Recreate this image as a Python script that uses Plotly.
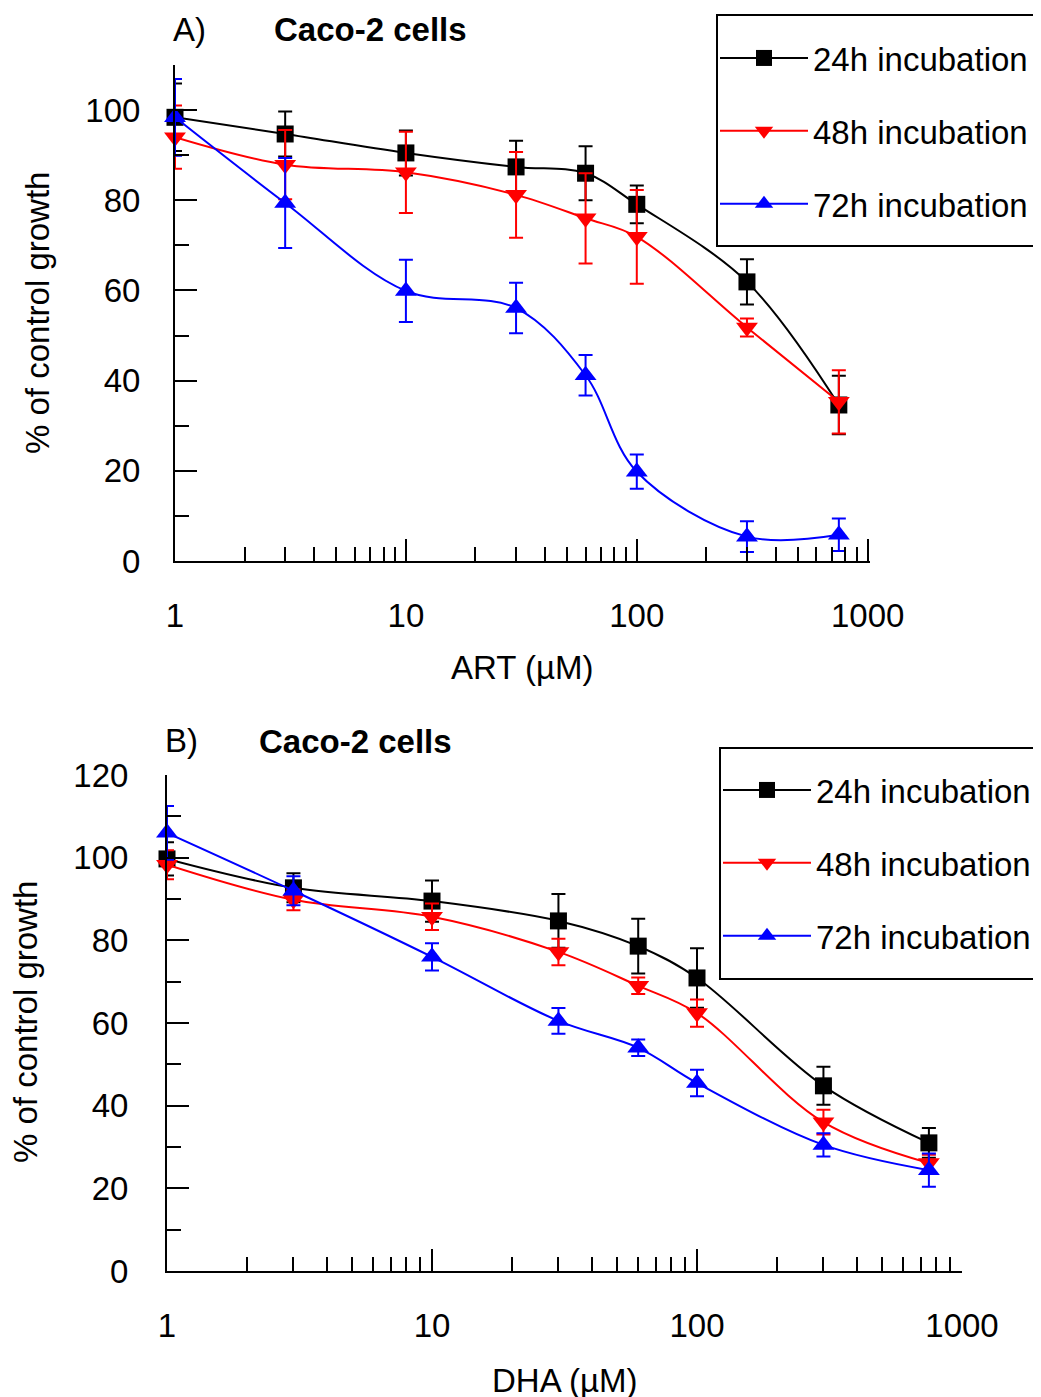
import plotly.graph_objects as go

W, H = 1041, 1397
OFF = 8  # page body margin offset
FONT = "Liberation Sans, Arial, sans-serif"
FS = 33

conc = [1, 3, 10, 30, 60, 100, 300, 750]
series_names = ["24h incubation", "48h incubation", "72h incubation"]
colors = ["#000000", "#FF0000", "#0000FF"]
symbols = ["square", "triangle-down", "triangle-up"]
sizes = [17, 19, 19]

# Panel A: ART
art_24 = [98.4, 94.7, 90.5, 87.4, 86.0, 79.1, 61.9, 34.6]
art_24_err = [7.5, 5.0, 5.0, 5.8, 6.0, 4.2, 5.0, 6.5]
art_48 = [94.0, 87.9, 86.2, 81.2, 76.0, 71.9, 51.8, 35.3]
art_48_err = [7.0, 7.7, 9.0, 9.5, 10.0, 10.4, 2.0, 7.0]
art_72 = [98.4, 79.4, 59.9, 56.1, 41.2, 19.8, 5.4, 5.8]
art_72_err = [8.5, 10.0, 6.9, 5.6, 4.5, 3.8, 3.4, 3.6]

# Panel B: DHA
dha_24 = [99.7, 92.7, 89.5, 84.7, 78.6, 70.9, 44.8, 31.0]
dha_24_err = [4.0, 3.5, 5.0, 6.5, 6.6, 7.2, 4.6, 3.6]
dha_48 = [98.3, 89.8, 85.7, 77.2, 69.0, 62.4, 36.0, 26.1]
dha_48_err = [3.5, 2.5, 3.2, 3.2, 2.0, 3.3, 3.0, 2.0]
dha_72 = [106.0, 92.0, 76.0, 60.5, 54.0, 45.5, 30.5, 24.4]
dha_72_err = [6.5, 3.5, 3.3, 3.1, 2.0, 3.2, 2.8, 4.0]

y_ticks_top = [0, 20, 40, 60, 80, 100]
y_ticks_bot = [0, 20, 40, 60, 80, 100, 120]
x_ticks = [1, 10, 100, 1000]
x_ticklabels = ["1", "10", "100", "1000"]


def px(x):
    return (x - OFF) / W


def py(y):
    return 1 - (y - OFF) / H


fig = go.Figure()


def add_series(vals, errs, i, xa, ya, legend):
    fig.add_trace(go.Scatter(
        x=conc, y=vals, xaxis=xa, yaxis=ya,
        mode="lines+markers", name=series_names[i],
        line=dict(color=colors[i], width=2, shape="spline", smoothing=1.0),
        marker=dict(symbol=symbols[i], size=sizes[i], color=colors[i], line=dict(width=0)),
        error_y=dict(type="data", array=errs, visible=True, color=colors[i], thickness=2, width=7),
        cliponaxis=False, legend=legend, legendgroup=legend + str(i),
    ))


for i, (v, e) in enumerate([(art_24, art_24_err), (art_48, art_48_err), (art_72, art_72_err)]):
    add_series(v, e, i, "x", "y", "legend")
for i, (v, e) in enumerate([(dha_24, dha_24_err), (dha_48, dha_48_err), (dha_72, dha_72_err)]):
    add_series(v, e, i, "x2", "y2", "legend2")

tickfont = dict(family=FONT, size=FS, color="black")


def xaxis(domain, anchor, rng):
    return dict(domain=domain, anchor=anchor, type="log", range=rng,
                tickvals=x_ticks, ticktext=x_ticklabels,
                ticks="inside", ticklen=22, tickwidth=2, tickcolor="black",
                minor=dict(ticks="inside", ticklen=14, tickwidth=2, tickcolor="black",
                           tickvals=[m * d for d in [1, 10, 100] for m in range(2, 10)], showgrid=False),
                showline=True, linewidth=2, linecolor="black", showgrid=False, zeroline=False,
                tickfont=tickfont, ticklabelstandoff=24, automargin=False)


def yaxis(domain, anchor, rng, tv, standoff):
    return dict(domain=domain, anchor=anchor, range=rng, tickvals=tv,
                ticks="inside", ticklen=22, tickwidth=2, tickcolor="black",
                minor=dict(ticks="inside", ticklen=14, tickwidth=2, tickcolor="black", dtick=10, showgrid=False),
                showline=True, linewidth=2, linecolor="black", showgrid=False, zeroline=False,
                tickfont=tickfont, ticklabelstandoff=standoff, automargin=False)


legend_common = dict(xanchor="left", yanchor="top",
                     borderwidth=0, bgcolor="rgba(0,0,0,0)",
                     font=dict(family=FONT, size=FS, color="black"),
                     itemwidth=88, traceorder="grouped", tracegroupgap=27)

fig.update_layout(
    width=W, height=H, margin=dict(l=0, r=0, t=0, b=0, autoexpand=False),
    paper_bgcolor="white", plot_bgcolor="white", showlegend=True,
    xaxis=xaxis([px(175), px(870)], "y", [0, 3.01]),
    yaxis=yaxis([py(561), py(65)], "x", [0, 110], y_ticks_top, 26),
    xaxis2=xaxis([px(167), px(962)], "y2", [0, 3.0]),
    yaxis2=yaxis([py(1271), py(775)], "x2", [0, 120], y_ticks_bot, 30),
    legend=dict(x=px(715), y=py(30), **legend_common),
    legend2=dict(x=px(718), y=py(762), **legend_common),
)

# legend frames (right side runs off the page as in the original)
for (x0, y0, x1, y1) in [(717, 15, 1060, 246), (720, 748, 1060, 979)]:
    fig.add_shape(type="rect", xref="paper", yref="paper",
                  x0=px(x0), y0=py(y1), x1=px(x1), y1=py(y0),
                  line=dict(color="black", width=2), fillcolor="rgba(0,0,0,0)", layer="above")


def ann(text, x, y, bold=False, angle=0, size=FS):
    fig.add_annotation(text=("<b>%s</b>" % text) if bold else text,
                       x=px(x), y=py(y), xref="paper", yref="paper",
                       xanchor="center", yanchor="middle", showarrow=False,
                       textangle=angle, font=dict(family=FONT, size=size, color="black"))


ann("A)", 189, 30)
ann("Caco-2 cells", 370, 30, bold=True)
ann("B)", 181, 740)
ann("Caco-2 cells", 355, 741, bold=True)
ann("% of control growth", 37, 313, angle=-90)
ann("% of control growth", 25, 1022, angle=-90)
ann("ART (µM)", 522, 667)
ann("DHA (µM)", 565, 1380)

fig.write_html("out.html")
